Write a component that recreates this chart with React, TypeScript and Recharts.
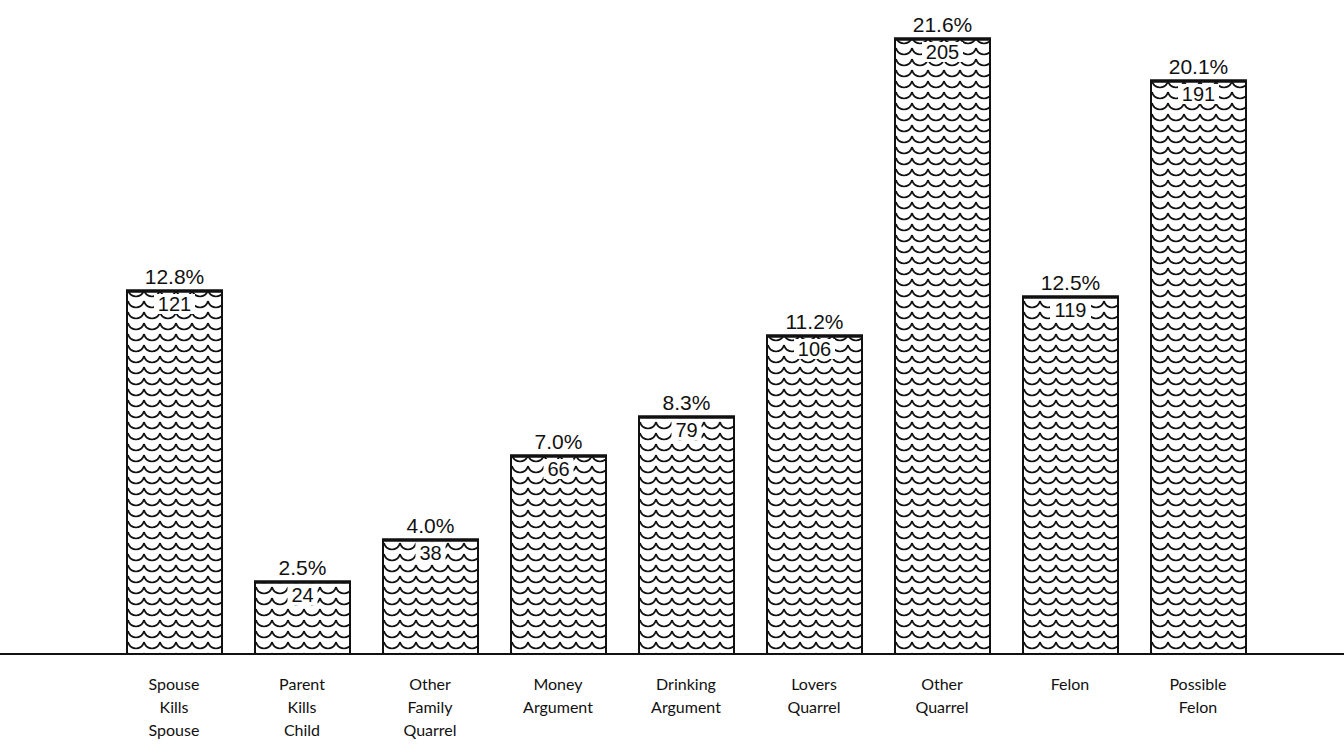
import React from "react";
import { BarChart, Bar, XAxis, YAxis, LabelList } from "recharts";

const categories = [
  "Spouse\nKills\nSpouse",
  "Parent\nKills\nChild",
  "Other\nFamily\nQuarrel",
  "Money\nArgument",
  "Drinking\nArgument",
  "Lovers\nQuarrel",
  "Other\nQuarrel",
  "Felon",
  "Possible\nFelon",
];
const counts = [121, 24, 38, 66, 79, 106, 205, 119, 191];
const percents = ["12.8%", "2.5%", "4.0%", "7.0%", "8.3%", "11.2%", "21.6%", "12.5%", "20.1%"];

const data = categories.map((c, i) => ({ cat: c, count: counts[i], pct: percents[i] }));

const NUM_FONT = "'Liberation Sans', Arial, sans-serif";
const TICK_FONT = "Lato, 'Open Sans', sans-serif";

const PatternBar = (props: any) => {
  const { x, y, width, height } = props;
  return (
    <g>
      <rect x={x} y={y} width={width} height={height} fill="#fff" />
      <rect x={x} y={y} width={width} height={height} fill="url(#wave)" />
      <rect x={x} y={y} width={width} height={height} fill="none" stroke="#111" strokeWidth={2} />
      <line x1={x - 1} y1={y} x2={x + width + 1} y2={y} stroke="#111" strokeWidth={3.5} />
    </g>
  );
};

const Tick = (props: any) => {
  const { x, y, payload } = props;
  const lines = String(payload.value).split("\n");
  return (
    <text x={x} y={y + 28} textAnchor="middle" fontFamily={TICK_FONT} fontSize={16} fill="#111">
      {lines.map((l, i) => (
        <tspan key={i} x={x} dy={i === 0 ? 0 : 23}>
          {l}
        </tspan>
      ))}
    </text>
  );
};

const PctLabel = (props: any) => {
  const { x, y, width, value } = props;
  return (
    <text x={x + width / 2} y={y - 7} textAnchor="middle" fontFamily={NUM_FONT} fontSize={21} fill="#111">
      {value}
    </text>
  );
};

const CountLabel = (props: any) => {
  const { x, y, width, value } = props;
  const s = String(value);
  const w = s.length * 11 + 8;
  const cx = x + width / 2;
  return (
    <g>
      <rect x={cx - w / 2} y={y + 3} width={w} height={20} fill="#fff" />
      <text x={cx} y={y + 20} textAnchor="middle" fontFamily={NUM_FONT} fontSize={20} fill="#111">
        {s}
      </text>
    </g>
  );
};

export default function App() {
  return (
    <div style={{ position: "fixed", left: 0, top: 0, width: 1344, height: 745, background: "#fff" }}>
      <BarChart
        width={1344}
        height={745}
        data={data}
        margin={{ top: 24, right: 0, bottom: 31, left: 0 }}
        barCategoryGap={0}
      >
        <defs>
          <pattern id="wave" patternUnits="userSpaceOnUse" width={16} height={11} x={0} y={3}>
            <path
              d="M0 1 Q1.5 7 8 7.5 Q14.5 7 16 1"
              fill="none"
              stroke="#111"
              strokeWidth={1.7}
            />
          </pattern>
        </defs>
        <XAxis
          dataKey="cat"
          height={60}
          axisLine={{ stroke: "#111", strokeWidth: 2 }}
          tickLine={false}
          tick={<Tick />}
          interval={0}
          padding={{ left: 110, right: 82 }}
        />
        <YAxis hide domain={[0, 210]} />
        <Bar dataKey="count" barSize={95} shape={<PatternBar />} isAnimationActive={false}>
          <LabelList dataKey="pct" content={<PctLabel />} />
          <LabelList dataKey="count" content={<CountLabel />} />
        </Bar>
      </BarChart>
    </div>
  );
}
